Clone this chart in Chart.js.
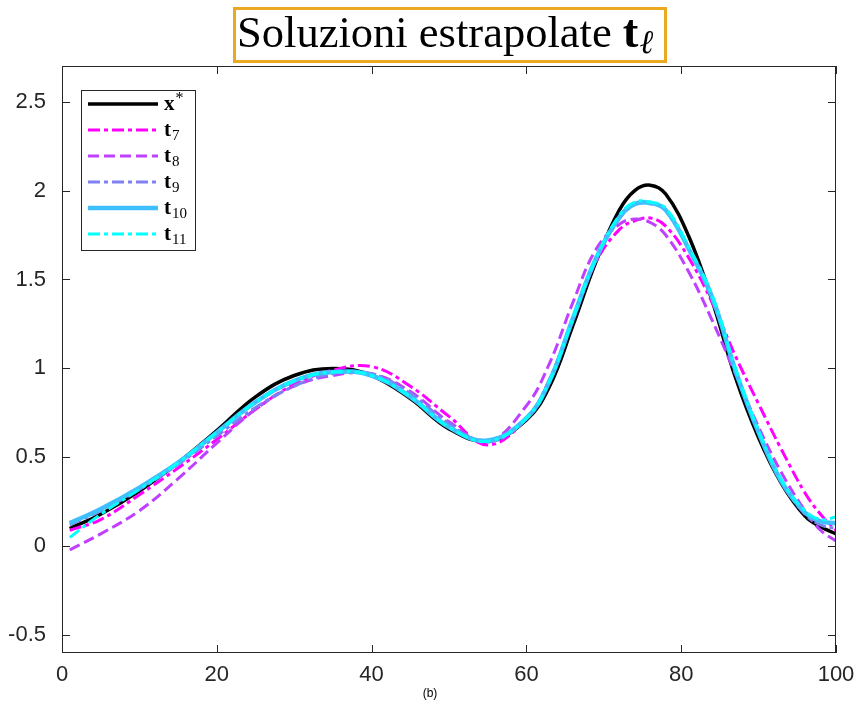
<!DOCTYPE html>
<html>
<head>
<meta charset="utf-8">
<script src="https://cdn.jsdelivr.net/npm/chart.js@4.4.1/dist/chart.umd.min.js"></script>
<style>
  body { margin: 0; background: #fff; }
  #wrap { width: 854px; height: 708px; }
</style>
</head>
<body>
<div id="wrap"><canvas id="chart" width="854" height="708"></canvas></div>
<script>
// sample positions along x and the six curves
const xVals = [1, 5, 10, 15, 20, 25, 30, 35, 40, 45, 50, 55, 60, 63, 66, 69, 72, 74, 76, 78, 81, 84, 87, 90, 93, 96, 98, 100];
const xStar = [0.10, 0.18, 0.31, 0.47, 0.65, 0.84, 0.96, 1.00, 0.96, 0.83, 0.66, 0.59, 0.71, 0.90, 1.24, 1.60, 1.89, 2.00, 2.03, 1.98, 1.74, 1.38, 0.95, 0.61, 0.35, 0.17, 0.11, 0.07];
const t7 = [0.09, 0.15, 0.29, 0.44, 0.60, 0.77, 0.91, 0.99, 1.01, 0.90, 0.73, 0.57, 0.72, 0.94, 1.28, 1.60, 1.78, 1.83, 1.845, 1.80, 1.62, 1.37, 1.07, 0.80, 0.54, 0.30, 0.18, 0.09];
const t8 = [-0.02, 0.07, 0.20, 0.38, 0.58, 0.77, 0.90, 0.96, 0.97, 0.87, 0.70, 0.59, 0.79, 1.03, 1.37, 1.67, 1.81, 1.84, 1.82, 1.75, 1.54, 1.27, 0.97, 0.67, 0.41, 0.20, 0.09, 0.03];
const t9 = [0.12, 0.20, 0.32, 0.46, 0.62, 0.78, 0.90, 0.97, 0.97, 0.86, 0.69, 0.585, 0.72, 0.93, 1.27, 1.61, 1.84, 1.92, 1.925, 1.89, 1.67, 1.39, 0.99, 0.64, 0.36, 0.18, 0.12, 0.10];
const t10 = [0.13, 0.21, 0.33, 0.47, 0.64, 0.81, 0.93, 0.98, 0.96, 0.84, 0.67, 0.595, 0.72, 0.93, 1.28, 1.62, 1.85, 1.925, 1.93, 1.89, 1.67, 1.40, 0.99, 0.64, 0.36, 0.19, 0.14, 0.13];
const t11 = [0.05, 0.18, 0.32, 0.47, 0.64, 0.81, 0.93, 0.98, 0.96, 0.84, 0.67, 0.59, 0.72, 0.93, 1.28, 1.62, 1.86, 1.935, 1.935, 1.90, 1.68, 1.41, 1.00, 0.65, 0.37, 0.20, 0.15, 0.165];

const seriesNames = ['x*', 't7', 't8', 't9', 't10', 't11'];
const xTicks = [0, 20, 40, 60, 80, 100];
const yTicks = [-0.5, 0, 0.5, 1, 1.5, 2, 2.5];

const titleText = 'Soluzioni estrapolate ';
const captionText = '(b)';

const tickFont = "'Liberation Sans', Arial, sans-serif";
const serif = "'Liberation Serif', 'Times New Roman', serif";
const axisColor = '#262626';

function pts(ys) {
    return xVals.map((x, i) => ({ x: x, y: ys[i] }));
}

const dashDot = [12, 4, 4, 4];
const styles = [
    { color: '#000000', width: 3.5, dash: [] },
    { color: '#ff00ff', width: 3, dash: dashDot },
    { color: '#bf40ff', width: 3, dash: [11, 5] },
    { color: '#8080f0', width: 3, dash: dashDot },
    { color: '#40bfff', width: 4.5, dash: [] },
    { color: '#00ffff', width: 3, dash: dashDot }
];
const allSeries = [xStar, t7, t8, t9, t10, t11];

const datasets = allSeries.map((ys, i) => ({
    label: seriesNames[i],
    data: pts(ys),
    borderColor: styles[i].color,
    borderWidth: styles[i].width,
    borderDash: styles[i].dash,
    pointRadius: 0,
    fill: false,
    tension: 0.4,
    order: allSeries.length - i   // later series drawn on top, as in the figure
}));

const decor = {
    id: 'decor',
    afterDraw(chart) {
        const { ctx, chartArea: a, scales: { x, y } } = chart;
        ctx.save();

        // axes box
        ctx.strokeStyle = axisColor;
        ctx.lineWidth = 1;
        ctx.setLineDash([]);
        ctx.strokeRect(a.left + 0.5, a.top + 0.5, a.right - a.left - 1, a.bottom - a.top - 1);

        // inward tick marks on all four sides
        const tl = 8;
        ctx.beginPath();
        xTicks.forEach(v => {
            const px = Math.round(x.getPixelForValue(v)) + 0.5;
            ctx.moveTo(px, a.bottom); ctx.lineTo(px, a.bottom - tl);
            ctx.moveTo(px, a.top); ctx.lineTo(px, a.top + tl);
        });
        yTicks.forEach(v => {
            const py = Math.round(y.getPixelForValue(v)) + 0.5;
            ctx.moveTo(a.left, py); ctx.lineTo(a.left + tl, py);
            ctx.moveTo(a.right, py); ctx.lineTo(a.right - tl, py);
        });
        ctx.stroke();

        // legend
        const lx = 81, ly = 90, lw = 114, lh = 160;
        ctx.fillStyle = '#fff';
        ctx.fillRect(lx, ly, lw, lh);
        ctx.strokeStyle = axisColor;
        ctx.strokeRect(lx + 0.5, ly + 0.5, lw, lh);
        chart.data.datasets.forEach((ds, i) => {
            const ry = ly + 14 + i * 26;
            ctx.beginPath();
            ctx.strokeStyle = ds.borderColor;
            ctx.lineWidth = ds.borderWidth;
            ctx.setLineDash(ds.borderDash);
            ctx.moveTo(lx + 7, ry);
            ctx.lineTo(lx + 77, ry);
            ctx.stroke();
            ctx.setLineDash([]);

            const base = ds.label[0];
            const script = ds.label.slice(1);
            ctx.fillStyle = '#000';
            ctx.textBaseline = 'alphabetic';
            ctx.textAlign = 'left';
            ctx.font = 'bold 21px ' + serif;
            const bx = lx + 83, by = ry + 6;
            ctx.fillText(base, bx, by);
            const bw = ctx.measureText(base).width;
            if (script === '*') {
                ctx.font = '16px ' + serif;
                ctx.fillText(script, bx + bw + 1, by - 7);
            } else {
                ctx.font = '15px ' + serif;
                ctx.fillText(script, bx + bw + 1, by + 4);
            }
        });

        // title box
        ctx.strokeStyle = '#eaa920';
        ctx.lineWidth = 3;
        ctx.strokeRect(234.5, 8.5, 431, 53);

        ctx.fillStyle = '#000';
        ctx.textAlign = 'left';
        ctx.textBaseline = 'alphabetic';
        let fs = 44;
        ctx.font = fs + 'px ' + serif;
        const target = 386;
        fs = fs * target / ctx.measureText(titleText).width;
        ctx.font = fs + 'px ' + serif;
        const tx = 237, tby = 47;
        ctx.fillText(titleText, tx, tby);
        let cx = tx + ctx.measureText(titleText).width;
        ctx.font = 'bold ' + (fs * 1.05) + 'px ' + serif;
        ctx.fillText('t', cx, tby);
        cx += ctx.measureText('t').width + 1;
        ctx.font = 'italic ' + Math.round(fs * 0.75) + 'px ' + serif;
        ctx.fillText('\u2113', cx, tby + 6);

        // caption
        ctx.font = '12px ' + tickFont;
        ctx.textAlign = 'center';
        ctx.fillStyle = '#000';
        ctx.fillText(captionText, 430, 697);

        ctx.restore();
    }
};

new Chart(document.getElementById('chart'), {
    type: 'line',
    data: { datasets: datasets },
    options: {
        responsive: false,
        animation: false,
        devicePixelRatio: 1,
        layout: { padding: { top: 66, right: 18, left: 0, bottom: 0 } },
        plugins: { legend: { display: false }, tooltip: { enabled: false }, title: { display: false } },
        scales: {
            x: {
                type: 'linear',
                min: 0,
                max: 100,
                afterBuildTicks: s => { s.ticks = xTicks.map(v => ({ value: v })); },
                afterFit: s => { s.height = 55; s.paddingLeft = 0; s.paddingRight = 0; },
                grid: { display: false, drawTicks: false },
                border: { display: false },
                ticks: { color: axisColor, font: { family: tickFont, size: 22 }, padding: 9, maxRotation: 0 }
            },
            y: {
                type: 'linear',
                min: -0.6,
                max: 2.7,
                afterBuildTicks: s => { s.ticks = yTicks.map(v => ({ value: v })); },
                afterFit: s => { s.width = 62; s.paddingTop = 0; s.paddingBottom = 0; },
                grid: { display: false, drawTicks: false },
                border: { display: false },
                ticks: { color: axisColor, font: { family: tickFont, size: 22 }, padding: 16, callback: v => String(v) }
            }
        }
    },
    plugins: [decor]
});
</script>
</body>
</html>
